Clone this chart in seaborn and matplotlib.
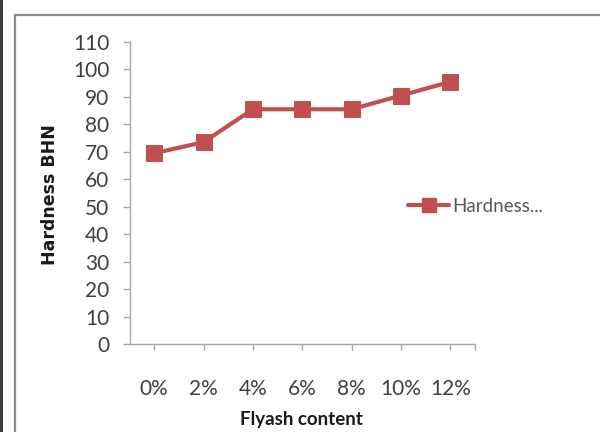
import matplotlib
matplotlib.use("Agg")
import matplotlib.pyplot as plt
from matplotlib.lines import Line2D
from matplotlib.patches import Rectangle
import seaborn as sns
import pandas as pd

# Flyash content levels and measured Brinell hardness
flyash_levels = ["0%", "2%", "4%", "6%", "8%", "10%", "12%"]
hardness_bhn = [69.5, 73.5, 85.5, 85.5, 85.5, 90.5, 95.5]
y_ticks = [0, 10, 20, 30, 40, 50, 60, 70, 80, 90, 100, 110]
series_name = "Hardness..."

df = pd.DataFrame({"Flyash content": flyash_levels, "Hardness BHN": hardness_bhn})

sns.set_theme(style="white")
plt.rcParams["font.family"] = ["Lato", "DejaVu Sans"]

RED = "#C0504D"
AXIS_GRAY = "#A6A6A6"
TEXT = "#404040"

fig = plt.figure(figsize=(6.0, 4.32), dpi=100)
ax = fig.add_axes([129.5 / 600, 1 - 344 / 432, (475 - 129.5) / 600, (344 - 42) / 432])

sns.lineplot(data=df, x="Flyash content", y="Hardness BHN", sort=False, ax=ax,
             color=RED, linewidth=3.0, marker="s", markersize=11,
             markeredgecolor=RED, markerfacecolor=RED, label=series_name,
             legend=False)

ax.set_xlim(-0.5, len(flyash_levels) - 0.5)
ax.set_ylim(0, 110)
ax.set_yticks(y_ticks)
ax.set_yticklabels([str(v) for v in y_ticks])
ax.set_xticks(range(len(flyash_levels)))
ax.set_xticklabels(flyash_levels)
ax.set_xticks([len(flyash_levels) - 0.5], minor=True)

for side in ("top", "right"):
    ax.spines[side].set_visible(False)
for side in ("left", "bottom"):
    ax.spines[side].set_color(AXIS_GRAY)
    ax.spines[side].set_linewidth(1.0)

ax.tick_params(axis="y", which="major", direction="out", length=5, width=1.0,
               color=AXIS_GRAY, labelsize=15, labelcolor=TEXT, pad=9.5, left=True)
ax.tick_params(axis="x", which="both", direction="out", length=4, width=1.0,
               color=AXIS_GRAY, labelsize=15, labelcolor=TEXT, pad=21, bottom=True)
ax.tick_params(axis="x", which="minor", labelbottom=False)

ax.set_xlabel("")
ax.set_ylabel("")
fig.text(50 / 600, 1 - 195 / 432, "Hardness BHN", rotation=90, ha="center", va="center",
         fontsize=12.5, fontweight="bold", color="#1a1a1a", family=["DejaVu Sans"])
fig.text(301 / 600, 1 - 420 / 432, "Flyash content", ha="center", va="center",
         fontsize=13.5, fontweight="bold", color="#1a1a1a")

handles = [Line2D([], [], color=RED, linewidth=3.0, marker="s", markersize=10,
                  markeredgecolor=RED, markerfacecolor=RED)]
fig.legend(handles, [series_name], loc="center left",
           bbox_to_anchor=(408 / 600, 1 - 206 / 432), frameon=False,
           borderpad=0, borderaxespad=0, handlelength=2.2, handletextpad=0.15,
           fontsize=13.5, labelcolor="#595959")

# chart frame and page edge
fig.add_artist(Rectangle((0, 0), 2.5 / 600, 1, transform=fig.transFigure,
                         facecolor="#3c3c3c", edgecolor="none"))
fig.add_artist(Line2D([14.5 / 600, 14.5 / 600], [0, 1 - 14.5 / 432],
                      transform=fig.transFigure, color="#8c8c8c", linewidth=1.6))
fig.add_artist(Line2D([14.5 / 600, 1], [1 - 14.5 / 432, 1 - 14.5 / 432],
                      transform=fig.transFigure, color="#8c8c8c", linewidth=1.6))

fig.savefig("out.png", dpi=100, facecolor="white")
